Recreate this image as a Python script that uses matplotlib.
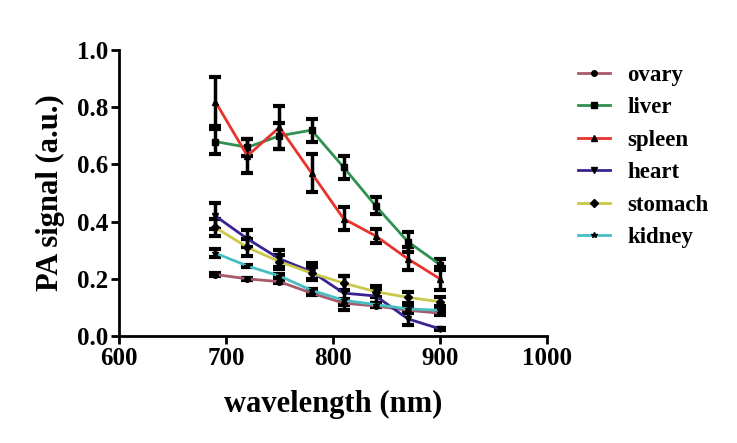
import numpy as np
import matplotlib
matplotlib.use("Agg")
import matplotlib.pyplot as plt

plt.rcParams['font.family'] = ['Liberation Serif', 'DejaVu Serif']
plt.rcParams['font.weight'] = 'bold'

wavelength = [690, 720, 750, 780, 810, 840, 870, 900]

ovary = [0.215, 0.200, 0.190, 0.150, 0.115, 0.105, 0.090, 0.080]
ovary_err = [0.004, 0.004, 0.004, 0.006, 0.006, 0.005, 0.005, 0.005]
liver = [0.680, 0.660, 0.700, 0.720, 0.590, 0.455, 0.330, 0.250]
liver_err = [0.045, 0.030, 0.045, 0.040, 0.040, 0.030, 0.035, 0.020]
spleen = [0.820, 0.630, 0.730, 0.570, 0.410, 0.350, 0.270, 0.200]
spleen_err = [0.085, 0.060, 0.075, 0.065, 0.040, 0.025, 0.040, 0.040]
heart = [0.420, 0.340, 0.270, 0.225, 0.150, 0.140, 0.060, 0.025]
heart_err = [0.045, 0.030, 0.030, 0.030, 0.060, 0.025, 0.020, 0.003]
stomach = [0.380, 0.310, 0.260, 0.220, 0.185, 0.155, 0.135, 0.120]
stomach_err = [0.030, 0.030, 0.025, 0.020, 0.025, 0.020, 0.020, 0.015]
kidney = [0.290, 0.245, 0.210, 0.160, 0.125, 0.110, 0.095, 0.090]
kidney_err = [0.015, 0.004, 0.008, 0.006, 0.006, 0.005, 0.005, 0.005]

names = ['ovary', 'liver', 'spleen', 'heart', 'stomach', 'kidney']
series = [ovary, liver, spleen, heart, stomach, kidney]
errors = [ovary_err, liver_err, spleen_err, heart_err, stomach_err, kidney_err]
colors = ['#a8596a', '#2e9150', '#e8322c', '#3a2390', '#c9c84a', '#47bfc2']
markers = ['o', 's', '^', 'v', 'D', '*']

fig = plt.figure(figsize=(7.37, 4.43), dpi=100)
ax = fig.add_axes([0.1615, 0.2415, 0.5805, 0.6455])

for name, y, e, c, m in zip(names, series, errors, colors, markers):
    ax.errorbar(wavelength, y, yerr=e, color=c, ecolor='black', elinewidth=2.5,
                capsize=4.5, capthick=3, lw=2, marker=m, markersize=4,
                markerfacecolor='black', markeredgecolor='black', label=name)

ax.set_xlim(600, 1000)
ax.set_ylim(0, 1.0)
ax.set_xticks([600, 700, 800, 900, 1000])
ax.set_yticks([0.0, 0.2, 0.4, 0.6, 0.8, 1.0])
ax.set_yticklabels(['0.0', '0.2', '0.4', '0.6', '0.8', '1.0'])
for s in ['top', 'right']:
    ax.spines[s].set_visible(False)
for s in ['left', 'bottom']:
    ax.spines[s].set_linewidth(2)
ax.tick_params(width=2, length=6, labelsize=18, pad=2)
for lab in ax.get_xticklabels() + ax.get_yticklabels():
    lab.set_fontweight('bold')

ax.set_xlabel('wavelength (nm)', fontsize=22, fontweight='bold', labelpad=14)
ax.set_ylabel('PA signal (a.u.)', fontsize=22, fontweight='bold', labelpad=8)

handles, labels = ax.get_legend_handles_labels()
handles = [h[0] for h in handles]
leg = fig.legend(handles, labels, loc='upper left', bbox_to_anchor=(0.756, 0.9),
                 frameon=False, handlelength=1.4, labelspacing=0.5,
                 handletextpad=0.75, prop={'weight': 'bold', 'size': 16.5})

fig.savefig('out.png', dpi=100)
